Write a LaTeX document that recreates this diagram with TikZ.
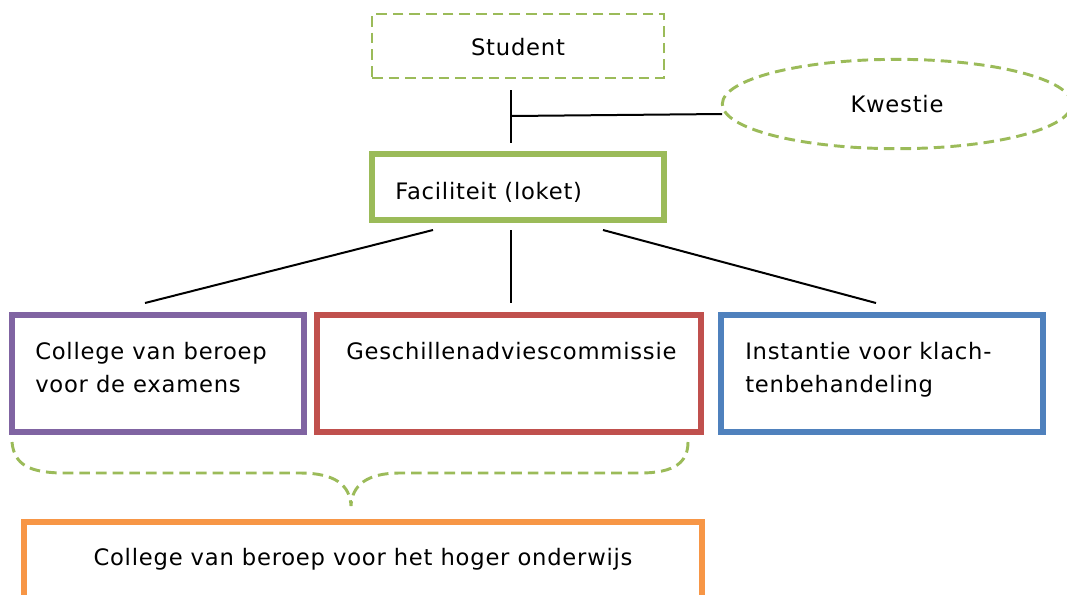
\documentclass[tikz,border=0pt]{standalone}
\usepackage{fontspec}
\setmainfont{DejaVu Sans}[LetterSpace=3.4]
\usetikzlibrary{shapes.geometric,calc}
\definecolor{ogreen}{HTML}{9BBB59}
\definecolor{opurple}{HTML}{8064A2}
\definecolor{ored}{HTML}{C0504D}
\definecolor{oblue}{HTML}{4F81BD}
\definecolor{oorange}{HTML}{F79646}
\tikzset{
  txt/.style={font=\fontsize{17}{24.75}\selectfont, inner sep=0pt, align=left},
  dashed green/.style={draw=ogreen, line width=2.2pt, dash pattern=on 8pt off 4.5pt},
  dashbox/.style={dashed green, rectangle, inner sep=0pt},
  thickbox/.style={line width=4.2pt, rectangle, inner sep=0pt, fill=white},
  conn/.style={line width=1.5pt, black},
}
\begin{document}
\begin{tikzpicture}[x=0.75pt,y=-0.75pt]
\clip (0,0) rectangle (1067,594);
\useasboundingbox (0,0) rectangle (1067,594);
% Student
\node[dashbox, minimum width=219pt, minimum height=48pt] (stud) at (518,46) {};
\node[txt, anchor=base] (studt) at (518,55) {Student};
% Kwestie
\node[ellipse, dashed green, minimum width=262pt, minimum height=67pt, inner sep=0pt] (kw) at (897,104) {};
\node[txt, anchor=base] (kwt) at (897,112.5) {Kwestie};
% Faciliteit
\node[thickbox, draw=ogreen, minimum width=219pt, minimum height=49.5pt] (fac) at (518,187) {};
\node[txt, anchor=base west] (fact) at (395,199) {Faciliteit (loket)};
% Bottom boxes
\node[thickbox, draw=opurple, minimum width=219pt, minimum height=87.75pt] (cbe) at (158,373.5) {};
\node[txt, anchor=base west] (cbet) at (35,392) {College van beroep\\voor de examens};
\node[thickbox, draw=ored, minimum width=288pt, minimum height=87.75pt] (gac) at (509,373.5) {};
\node[txt, anchor=base west] (gact) at (346,359) {Geschillenadviescommissie};
\node[thickbox, draw=oblue, minimum width=241.5pt, minimum height=87.75pt] (ivk) at (882,373.5) {};
\node[txt, anchor=base west] (ivkt) at (745,392) {Instantie voor klach-\\tenbehandeling};
% Orange box
\node[thickbox, draw=oorange, minimum width=508.5pt, minimum height=90pt] (cbho) at (363,582) {};
\node[txt, anchor=base] (cbhot) at (363,565) {College van beroep voor het hoger onderwijs};
% connectors
\coordinate (s1) at (511,90);
\coordinate (s2) at (511,143);
\coordinate (j) at (511,116);
\coordinate (kwl) at (722,114);
\draw[conn] (s1) -- (s2);
\draw[conn] (j) -- (kwl);
\coordinate (f1) at (433,230);
\coordinate (f2) at (511,230);
\coordinate (f3) at (603,230);
\coordinate (b1) at (145,303);
\coordinate (b2) at (511,303);
\coordinate (b3) at (876,303);
\draw[conn] (f1) -- (b1);
\draw[conn] (f2) -- (b2);
\draw[conn] (f3) -- (b3);
% brace
\coordinate (brL) at (12,442);
\coordinate (brR) at (688,442);
\coordinate (brT) at (351,506);
\draw[dashed green]
  (brL) .. controls (14,465) and (30,473) .. (65,473) -- (300,473)
  .. controls (335,473) and (350,485) .. (brT)
  .. controls (352,485) and (367,473) .. (400,473) -- (640,473)
  .. controls (675,473) and (688,462) .. (brR);
\end{tikzpicture}
\end{document}
